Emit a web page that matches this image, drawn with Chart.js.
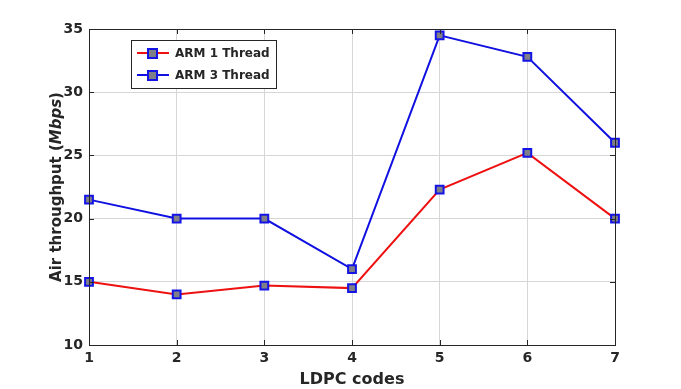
<!DOCTYPE html>
<html>
<head>
<meta charset="utf-8">
<script src="https://cdn.jsdelivr.net/npm/chart.js@4/dist/chart.umd.min.js"></script>
<style>
    body { margin: 0; background: #fff; }
    #wrap { width: 681px; height: 389px; }
</style>
</head>
<body>
<div id="wrap"><canvas id="chart"></canvas></div>
<script>
var codes = ["1", "2", "3", "4", "5", "6", "7"];
var arm1Thread = [15, 14, 14.7, 14.5, 22.3, 25.2, 20];
var arm3Thread = [21.5, 20, 20, 16, 34.5, 32.8, 26];
var seriesNames = ["ARM 1 Thread", "ARM 3 Thread"];
var yTicks = [10, 15, 20, 25, 30, 35];

var FONT = "'DejaVu Sans', sans-serif";
var MARKER_FILL = '#7f7f88';
var MARKER_EDGE = '#1414e6';

// frame, inward ticks, axis label and legend, MATLAB style
var matlabDecor = {
    id: 'matlabDecor',
    afterDraw: function(chart) {
        var ctx = chart.ctx;
        var a = chart.chartArea;
        var xs = chart.scales.x, ys = chart.scales.y;
        ctx.save();
        ctx.strokeStyle = '#262626';
        ctx.lineWidth = 1;
        ctx.strokeRect(a.left + 0.5, a.top + 0.5, a.right - a.left, a.bottom - a.top);
        ctx.beginPath();
        codes.forEach(function(c, i) {
            var px = Math.round(xs.getPixelForValue(i)) + 0.5;
            ctx.moveTo(px, a.bottom); ctx.lineTo(px, a.bottom - 5);
            ctx.moveTo(px, a.top); ctx.lineTo(px, a.top + 5);
        });
        yTicks.forEach(function(v) {
            var py = Math.round(ys.getPixelForValue(v)) + 0.5;
            ctx.moveTo(a.left, py); ctx.lineTo(a.left + 5, py);
            ctx.moveTo(a.right, py); ctx.lineTo(a.right - 5, py);
        });
        ctx.stroke();

        // y axis title with italic unit
        ctx.fillStyle = '#262626';
        ctx.translate(57, (a.top + a.bottom) / 2);
        ctx.rotate(-Math.PI / 2);
        var parts = [["Air throughput (", "bold 15px " + FONT],
                     ["Mbps", "italic bold 15px " + FONT],
                     [")", "bold 15px " + FONT]];
        var total = 0;
        parts.forEach(function(p) { ctx.font = p[1]; total += ctx.measureText(p[0]).width; });
        var x = -total / 2;
        ctx.textBaseline = 'middle';
        parts.forEach(function(p) {
            ctx.font = p[1];
            ctx.fillText(p[0], x, 0);
            x += ctx.measureText(p[0]).width;
        });
        ctx.restore();

        // legend
        ctx.save();
        var lx = 131, ly = 40, lw = 145, lh = 48;
        ctx.fillStyle = '#fff';
        ctx.fillRect(lx, ly, lw, lh);
        ctx.strokeStyle = '#262626';
        ctx.lineWidth = 1;
        ctx.strokeRect(lx + 0.5, ly + 0.5, lw, lh);
        chart.data.datasets.forEach(function(ds, i) {
            var cy = ly + 13 + i * 22;
            ctx.strokeStyle = ds.borderColor;
            ctx.lineWidth = 2;
            ctx.beginPath();
            ctx.moveTo(lx + 6, cy); ctx.lineTo(lx + 38, cy);
            ctx.stroke();
            ctx.fillStyle = MARKER_FILL;
            ctx.fillRect(lx + 17, cy - 4, 9, 9);
            ctx.strokeStyle = MARKER_EDGE;
            ctx.lineWidth = 2;
            ctx.strokeRect(lx + 17, cy - 4, 9, 9);
            ctx.fillStyle = '#262626';
            ctx.font = 'bold 12px ' + FONT;
            ctx.textBaseline = 'middle';
            ctx.fillText(ds.label, lx + 44, cy + 1);
        });
        ctx.restore();
    }
};

function makeSet(label, values, color) {
    return {
        label: label,
        data: values,
        borderColor: color,
        borderWidth: 2,
        pointStyle: 'rect',
        pointRadius: 5.5,
        pointHoverRadius: 5.5,
        pointBackgroundColor: MARKER_FILL,
        pointBorderColor: MARKER_EDGE,
        pointBorderWidth: 2,
        tension: 0,
        fill: false,
        clip: false
    };
}

new Chart(document.getElementById('chart').getContext('2d'), {
    type: 'line',
    data: {
        labels: codes,
        datasets: [
            makeSet(seriesNames[0], arm1Thread, '#ee1111'),
            makeSet(seriesNames[1], arm3Thread, '#1010e0')
        ]
    },
    options: {
        responsive: true,
        maintainAspectRatio: false,
        animation: false,
        layout: { padding: { left: 0, top: 29, right: 66, bottom: 0 } },
        plugins: {
            legend: { display: false },
            tooltip: { enabled: false }
        },
        scales: {
            x: {
                type: 'category',
                offset: false,
                grid: { color: '#d6d6d6', drawTicks: false },
                border: { display: false },
                ticks: {
                    color: '#262626',
                    font: { family: FONT, size: 14, weight: 'bold' },
                    padding: 5,
                    maxRotation: 0
                },
                title: {
                    display: true,
                    text: 'LDPC codes',
                    color: '#262626',
                    font: { family: FONT, size: 16, weight: 'bold' },
                    padding: { top: 0, bottom: 0 }
                },
                afterFit: function(scale) { scale.height = 44; }
            },
            y: {
                min: 10,
                max: 35,
                grid: { color: '#d6d6d6', drawTicks: false },
                border: { display: false },
                afterBuildTicks: function(scale) {
                    scale.ticks = yTicks.map(function(v) { return { value: v }; });
                },
                ticks: {
                    color: '#262626',
                    font: { family: FONT, size: 14, weight: 'bold' },
                    padding: 6
                },
                afterFit: function(scale) { scale.width = 89; }
            }
        }
    },
    plugins: [matlabDecor]
});
</script>
</body>
</html>
